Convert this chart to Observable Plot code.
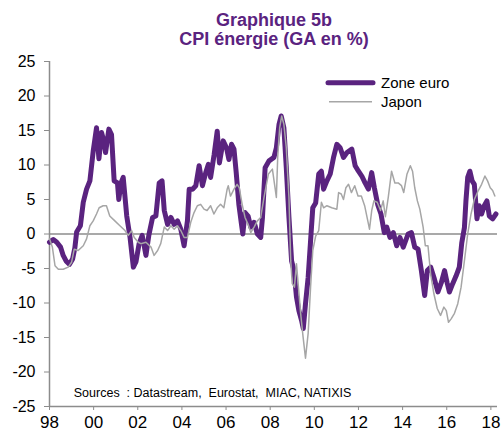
<!DOCTYPE html>
<html><head><meta charset="utf-8">
<script src="https://cdn.jsdelivr.net/npm/d3@7"></script>
<script src="https://cdn.jsdelivr.net/npm/@observablehq/plot@0.6"></script>
<style>
body{margin:0;background:#fff;font-family:"Liberation Sans",Arial,sans-serif;}
#wrap{position:relative;width:504px;height:432px;overflow:hidden;}
.t{position:absolute;left:124px;width:300px;text-align:center;font-weight:bold;font-size:18px;line-height:20px;color:#5a237f;white-space:nowrap;}
#chart{position:absolute;left:0;top:50px;}
</style></head><body>
<div id="wrap">
  <div class="t" style="top:10px">Graphique 5b</div>
  <div class="t" style="top:29px">CPI énergie (GA en %)</div>
  <div id="chart"></div>
</div>
<script>
const titleLines = ["Graphique 5b", "CPI énergie (GA en %)"];
const seriesNames = ["Zone euro", "Japon"];
const sourceText = "Sources\u00a0\u00a0: Datastream,\u00a0 Eurostat,\u00a0 MIAC, NATIXIS";
const yearTicks = [1998,2000,2002,2004,2006,2008,2010,2012,2014,2016,2018];
const yearLabels = ["98","00","02","04","06","08","10","12","14","16","18"];
const valueTicks = [-25,-20,-15,-10,-5,0,5,10,15,20,25];

const euroT = [1998.00,1998.17,1998.33,1998.50,1998.62,1998.75,1998.90,1999.05,1999.15,1999.23,1999.40,1999.53,1999.68,1999.83,1999.98,
2000.13,2000.24,2000.36,2000.46,2000.54,2000.69,2000.81,2000.93,2001.08,2001.14,2001.24,2001.34,2001.50,2001.65,2001.80,2001.92,
2002.06,2002.20,2002.37,2002.50,2002.67,2002.82,2002.97,2003.10,2003.20,2003.35,2003.50,2003.65,2003.80,2003.95,
2004.10,2004.25,2004.33,2004.48,2004.63,2004.78,2004.93,2005.08,2005.20,2005.30,2005.46,2005.60,2005.70,2005.87,
2006.02,2006.13,2006.25,2006.36,2006.46,2006.58,2006.70,2006.76,2006.86,2007.00,2007.12,2007.27,2007.42,2007.57,2007.65,2007.77,2007.95,
2008.17,2008.28,2008.40,2008.50,2008.62,2008.73,2008.85,2008.97,2009.08,2009.19,2009.30,2009.42,2009.50,2009.60,2009.72,2009.83,2009.93,
2010.06,2010.20,2010.32,2010.42,2010.57,2010.72,2010.87,2011.02,2011.17,2011.32,2011.48,2011.70,2011.85,
2012.00,2012.15,2012.30,2012.45,2012.60,2012.72,2012.87,2013.02,2013.17,2013.28,2013.43,2013.58,2013.73,2013.88,
2014.03,2014.25,2014.40,2014.55,2014.70,2014.85,2015.00,2015.12,2015.27,2015.42,2015.60,2015.75,2015.90,
2016.02,2016.12,2016.27,2016.42,2016.57,2016.68,2016.80,2016.87,2016.95,2017.05,2017.15,2017.25,2017.37,2017.47,2017.58,2017.70,2017.82,2017.93,
2018.08,2018.23];
const euroV = [-1.2,-0.8,-1.2,-1.9,-3.1,-3.9,-4.4,-3.6,-2.0,0.3,1.2,4.6,6.5,7.7,12.0,
15.4,10.9,14.7,13.5,11.8,15.2,14.4,7.7,7.4,5.0,7.4,8.2,2.6,-0.5,-4.8,-4.0,
-1.4,-0.2,-3.1,-0.2,2.4,2.6,7.4,7.7,3.4,1.4,2.4,1.4,1.9,0.7,
-1.7,1.9,6.5,6.5,7.0,9.9,7.0,8.9,10.1,8.2,11.5,14.9,10.3,13.5,
12.5,10.8,13.0,12.3,8.9,4.3,1.4,0.0,3.1,2.6,1.0,1.7,0.0,-0.5,2.4,9.6,10.6,
11.1,12.5,15.9,17.1,15.4,9.6,2.4,-3.9,-5.3,-9.1,-11.1,-12.5,-13.7,-10.1,-6.3,-1.0,3.8,
4.5,8.7,9.1,6.5,7.7,8.7,11.1,13.0,12.5,11.1,11.8,12.3,9.9,
9.1,8.4,7.4,6.5,8.9,6.7,4.3,2.9,0.2,1.0,-0.5,0.2,-1.7,-0.5,
-1.9,0.0,0.2,-1.9,-2.2,-5.3,-8.9,-5.3,-4.8,-6.3,-8.4,-7.1,-5.3,
-7.1,-8.4,-7.2,-6.1,-4.8,-1.3,0.9,4.8,8.2,9.1,7.7,7.2,2.2,4.1,2.9,4.1,4.8,2.6,
2.2,2.9];

const japT = [1998.00,1998.13,1998.25,1998.40,1998.62,1998.85,1999.00,1999.12,1999.30,1999.53,1999.68,1999.83,1999.98,
2000.13,2000.25,2000.43,2000.58,2000.73,2000.96,2001.19,2001.42,2001.57,2001.72,2001.84,
2002.02,2002.14,2002.37,2002.60,2002.74,2002.90,2003.04,2003.20,2003.35,2003.50,2003.65,2003.80,2003.95,
2004.10,2004.25,2004.40,2004.55,2004.70,2004.85,2005.00,2005.14,2005.30,2005.45,2005.60,2005.75,2005.90,
2006.05,2006.10,2006.20,2006.36,2006.50,2006.60,2006.73,2006.86,2007.00,2007.12,2007.27,2007.42,2007.57,2007.72,2007.92,
2008.10,2008.22,2008.28,2008.34,2008.43,2008.52,2008.62,2008.73,2008.85,2008.93,2009.00,2009.10,2009.19,2009.28,2009.38,2009.49,2009.60,2009.72,2009.83,2009.93,
2010.06,2010.20,2010.32,2010.42,2010.57,2010.79,2011.02,2011.10,2011.22,2011.32,2011.43,2011.55,2011.68,2011.83,2011.98,
2012.13,2012.28,2012.39,2012.50,2012.60,2012.70,2012.85,2013.00,2013.12,2013.22,2013.35,2013.50,2013.65,2013.80,2013.95,
2014.05,2014.20,2014.35,2014.45,2014.55,2014.67,2014.78,2014.93,2015.03,2015.15,2015.27,2015.42,2015.57,2015.72,2015.87,2015.98,
2016.08,2016.20,2016.35,2016.50,2016.65,2016.80,2016.95,2017.10,2017.25,2017.43,2017.58,2017.73,2017.85,2017.97,
2018.08,2018.18];
const japV = [-0.7,-1.9,-4.6,-5.1,-5.1,-4.8,-4.1,-2.2,-2.4,-1.7,-0.7,1.2,1.9,
2.9,3.8,4.1,4.1,2.6,1.9,1.2,0.5,-0.2,0.5,-0.5,
-1.2,-1.4,-1.2,-1.9,-3.1,-2.4,-1.4,1.0,0.5,1.2,0.7,1.2,0.5,
-0.5,-0.5,1.7,3.1,4.1,4.3,3.6,3.4,4.1,2.9,3.8,4.3,3.8,
6.5,7.0,5.5,6.5,7.2,6.7,4.3,2.4,1.4,0.2,1.0,1.9,2.4,5.3,8.7,
9.4,6.7,5.3,11.1,15.4,17.1,15.9,12.5,5.3,-3.9,-7.2,-7.7,-4.3,-7.7,-11.5,-14.9,-18.0,-14.4,-7.7,-2.4,
-0.3,0.5,4.6,3.8,4.1,3.8,3.6,6.0,5.8,5.0,6.7,7.2,6.0,7.0,5.5,
5.5,4.1,2.4,0.7,3.4,4.8,4.6,3.4,4.8,2.5,5.3,9.1,7.4,7.4,7.0,
6.0,8.7,9.9,9.1,6.7,4.8,3.6,1.0,-1.7,-1.7,-5.8,-8.7,-10.8,-11.8,-10.6,-11.1,
-12.8,-12.3,-11.5,-10.1,-7.7,-3.9,0.0,2.9,5.0,6.3,7.2,8.4,7.7,6.7,
6.3,5.5];

const euro = euroT.map((t, i) => ({t, v: euroV[i], s: seriesNames[0]}));
const jap = japT.map((t, i) => ({t, v: japV[i], s: seriesNames[1]}));

const purple = "#5a237f";
const grayLine = "#a6a6a6";
const axisGray = "#8c8c8c";

const chart = Plot.plot({
  width: 504,
  height: 382,
  marginLeft: 49,
  marginRight: 7,
  marginTop: 11,
  marginBottom: 26,
  x: {domain: [1998, 2018.3]},
  y: {domain: [-25, 25]},
  style: {fontFamily: "'Liberation Sans', Arial, sans-serif", background: "white", color: "black"},
  marks: [
    Plot.ruleY([0], {stroke: axisGray, strokeWidth: 1.5}),
    Plot.ruleY([-25], {stroke: axisGray, strokeWidth: 1.5}),
    Plot.ruleX([1998], {y1: -25, y2: 25, stroke: axisGray, strokeWidth: 1.5}),
    Plot.axisY({ticks: valueTicks, tickSize: 5, tickPadding: 9, fontSize: 16, stroke: axisGray, fill: "black", label: null, tickFormat: d => String(d)}),
    Plot.axisX({ticks: yearTicks, tickSize: 4, tickPadding: 5, fontSize: 17, stroke: axisGray, fill: "black", label: null, tickFormat: d => yearLabels[yearTicks.indexOf(d)]}),
    Plot.line(euro, {x: "t", y: "v", stroke: purple, strokeWidth: 5, strokeLinejoin: "round", strokeLinecap: "round"}),
    Plot.line(jap, {x: "t", y: "v", stroke: grayLine, strokeWidth: 1.5}),
    Plot.text([sourceText], {x: 1999.1, y: -23.0, text: d => d, textAnchor: "start", fontSize: 12.5, fill: "black"})
  ]
});
document.getElementById("chart").appendChild(chart);

// legend
const svg = d3.select(chart);
const lg = svg.append("g")
  .attr("font-family", "'Liberation Sans', Arial, sans-serif")
  .attr("font-size", 15)
  .attr("text-anchor", "start")
  .attr("fill", "black");
lg.append("line").attr("x1", 328).attr("x2", 373).attr("y1", 32.7).attr("y2", 32.7)
  .attr("stroke", purple).attr("stroke-width", 5).attr("stroke-linecap", "round");
lg.append("text").attr("x", 381).attr("y", 37.8).attr("text-anchor", "start").text(seriesNames[0]);
lg.append("line").attr("x1", 329).attr("x2", 372).attr("y1", 51.7).attr("y2", 51.7)
  .attr("stroke", grayLine).attr("stroke-width", 1.5);
lg.append("text").attr("x", 381).attr("y", 56.5).attr("text-anchor", "start").text(seriesNames[1]);
</script>
</body></html>
